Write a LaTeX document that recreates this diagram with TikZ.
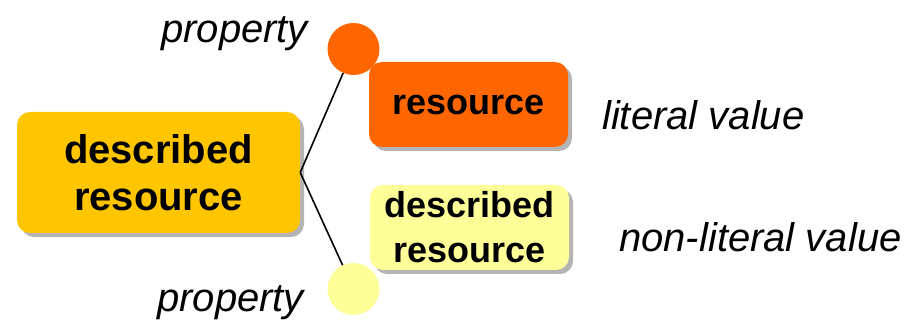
\documentclass[tikz,border=0pt]{standalone}
\usepackage{fontspec}
\setmainfont{Liberation Sans}
\usetikzlibrary{shadows}
\definecolor{gold}{HTML}{FFC600}
\definecolor{orng}{HTML}{FF6600}
\definecolor{paleyel}{HTML}{FFFF99}
\definecolor{shad}{HTML}{B4B4B4}
\tikzset{
  boxbase/.style={rounded corners=13pt, inner sep=0pt, align=center, font=\bfseries,
    drop shadow={shadow xshift=4pt, shadow yshift=-4pt, fill=shad, opacity=1}},
  mainbox/.style={boxbase, fill=gold, minimum width=283pt, minimum height=121pt,
    font=\fontsize{40}{47}\selectfont\bfseries},
  smallbox/.style={boxbase, minimum width=199pt, minimum height=85pt,
    font=\fontsize{36}{45}\selectfont\bfseries},
  propdot/.style={circle, inner sep=0pt, minimum size=52pt},
  lbl/.style={font=\fontsize{40}{48}\selectfont\itshape, anchor=base west, inner sep=0pt},
  link/.style={line width=1.6pt, black}
}
\begin{document}
\begin{tikzpicture}[x=1pt,y=-1pt]
\useasboundingbox (0,0) rectangle (908,320);
\node[mainbox] (main) at (158.5,172.5) {described\\resource};
\node[smallbox, fill=orng] (res) at (468.5,104.5) {resource};
\node[smallbox, fill=paleyel] (desc) at (469.5,227.5) {described\\resource};
\node[propdot, fill=orng] (c1) at (353.5,49) {};
\node[propdot, fill=paleyel] (c2) at (353.5,289) {};
\draw[link] (main.east) -- (c1);
\draw[link] (main.east) -- (c2);
\node[lbl] (p1) at (161,43) {property};
\node[lbl] (p2) at (157,312) {property};
\node[lbl] (lit) at (602,130) {literal value};
\node[lbl] (nonlit) at (619,252) {non-literal value};
\end{tikzpicture}
\end{document}
